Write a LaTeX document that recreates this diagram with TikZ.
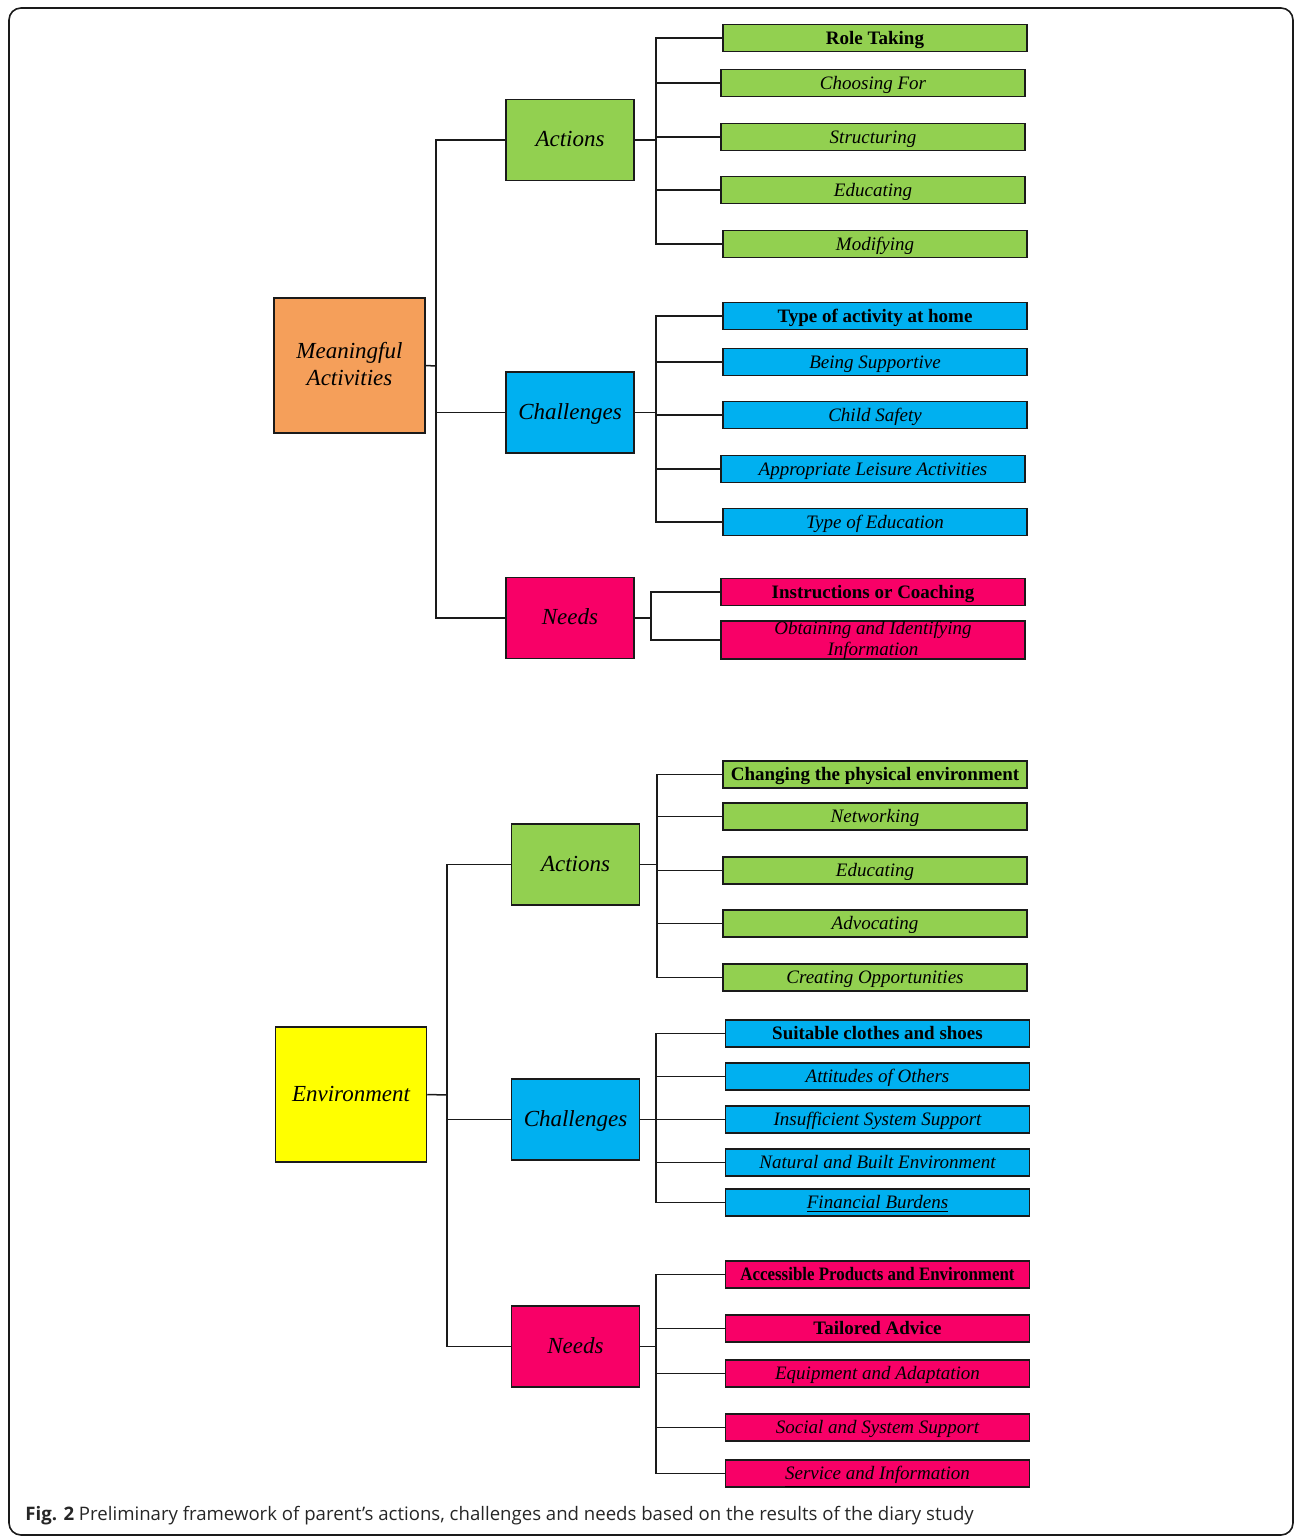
\documentclass[tikz,border=0pt]{standalone}
\usepackage{fontspec}
\setmainfont{Liberation Serif}
\newfontfamily\capfont{Open Sans}
\definecolor{cgreen}{HTML}{92D050}
\definecolor{cblue}{HTML}{00B0F0}
\definecolor{cpink}{HTML}{F80067}
\definecolor{corange}{HTML}{F59F5A}
\definecolor{cyellow}{HTML}{FFFF00}
\definecolor{cline}{HTML}{1A1A1A}
\newcommand\twolines[4]{\raisebox{0pt}[#1][#2]{\begin{tabular}[t]{@{}c@{}}#3\\#4\end{tabular}}}
\begin{document}
\begin{tikzpicture}[x=0.5pt,y=-0.5pt,
  box/.style={draw=cline,line width=0.75pt,inner sep=0pt,align=center},
  leaf/.style={box,minimum width=152pt,minimum height=13.5pt,text height=7.5pt,text depth=1.5pt,font=\fontsize{9.5}{10.5}\selectfont\itshape},
  bleaf/.style={leaf,font=\fontsize{9.5}{10.5}\selectfont\bfseries},
  mid/.style={box,minimum width=64pt,minimum height=40.5pt,text height=9pt,text depth=2.4pt,font=\fontsize{11.5}{13.5}\selectfont\itshape},
  root/.style={box,minimum width=75.5pt,minimum height=67.5pt,text height=9.5pt,text depth=2.5pt,font=\fontsize{11.5}{13.5}\selectfont\itshape},
  multi/.style={text height=,text depth=},
  conn/.style={draw=cline,line width=0.75pt}]
\useasboundingbox (0,0) rectangle (1295,1537);
\draw[draw=cline,line width=0.8pt,rounded corners=6pt] (9,8) rectangle (1293,1535);

% ---------- top: Meaningful Activities ----------
\node[root,multi,fill=corange] (ma) at (349.5,365.5) {\twolines{9pt}{16.5pt}{Meaningful}{Activities}};
\node[mid,fill=cgreen] (a1) at (570,140) {Actions};
\node[mid,fill=cblue] (c1) at (570,412.5) {Challenges};
\node[mid,fill=cpink] (n1) at (570,618) {Needs};

\node[bleaf,fill=cgreen] (a1l1) at (875,38) {Role Taking};
\node[leaf,fill=cgreen] (a1l2) at (873,83) {Choosing For};
\node[leaf,fill=cgreen] (a1l3) at (873,137) {Structuring};
\node[leaf,fill=cgreen] (a1l4) at (873,190) {Educating};
\node[leaf,fill=cgreen] (a1l5) at (875,244) {Modifying};

\node[bleaf,fill=cblue] (c1l1) at (875,316) {Type of activity at home};
\node[leaf,fill=cblue] (c1l2) at (875,362) {Being Supportive};
\node[leaf,fill=cblue] (c1l3) at (875,415) {Child Safety};
\node[leaf,fill=cblue] (c1l4) at (873,469) {Appropriate Leisure Activities};
\node[leaf,fill=cblue] (c1l5) at (875,522) {Type of Education};

\node[bleaf,fill=cpink] (n1l1) at (873,592) {Instructions or Coaching};
\node[leaf,multi,fill=cpink,minimum height=19pt] (n1l2) at (873,640) {\twolines{6.5pt}{12.5pt}{Obtaining and Identifying}{Information}};

\coordinate (tm) at (436,366);
\coordinate (ja1) at (656,140);
\coordinate (jc1) at (656,412.5);
\coordinate (jn1) at (651,618);

\draw[conn] (ma.east) -- (tm);
\draw[conn] (tm) |- (a1.west);
\draw[conn] (tm) |- (c1.west);
\draw[conn] (tm) |- (n1.west);
\draw[conn] (a1.east) -- (ja1);
\draw[conn] (c1.east) -- (jc1);
\draw[conn] (n1.east) -- (jn1);
\foreach \l in {a1l1,a1l2,a1l3,a1l4,a1l5} \draw[conn] (ja1) |- (\l.west);
\foreach \l in {c1l1,c1l2,c1l3,c1l4,c1l5} \draw[conn] (jc1) |- (\l.west);
\foreach \l in {n1l1,n1l2} \draw[conn] (jn1) |- (\l.west);

% ---------- bottom: Environment ----------
\node[root,fill=cyellow] (env) at (351,1094.5) {Environment};
\node[mid,fill=cgreen] (a2) at (575.5,864.5) {Actions};
\node[mid,fill=cblue] (c2) at (575.5,1119.5) {Challenges};
\node[mid,fill=cpink] (n2) at (575.5,1346.5) {Needs};

\node[bleaf,fill=cgreen] (a2l1) at (875,774.5) {Changing the physical environment};
\node[leaf,fill=cgreen] (a2l2) at (875,816.5) {Networking};
\node[leaf,fill=cgreen] (a2l3) at (875,870.5) {Educating};
\node[leaf,fill=cgreen] (a2l4) at (875,923.5) {Advocating};
\node[leaf,fill=cgreen] (a2l5) at (875,977.5) {Creating Opportunities};

\node[bleaf,fill=cblue] (c2l1) at (877.5,1033.5) {Suitable clothes and shoes};
\node[leaf,fill=cblue] (c2l2) at (877.5,1076.5) {Attitudes of Others};
\node[leaf,fill=cblue] (c2l3) at (877.5,1119.5) {Insufficient System Support};
\node[leaf,fill=cblue] (c2l4) at (877.5,1162.5) {Natural and Built Environment};
\node[leaf,fill=cblue] (c2l5) at (877.5,1202.5) {\underline{Financial Burdens}};

\node[bleaf,fill=cpink] (n2l1) at (877.5,1274.5) {\scalebox{0.89}[1]{Accessible Products and Environment}};
\node[bleaf,fill=cpink] (n2l2) at (877.5,1328.5) {Tailored Advice};
\node[leaf,fill=cpink] (n2l3) at (877.5,1373.5) {Equipment and Adaptation};
\node[leaf,fill=cpink] (n2l4) at (877.5,1427.5) {Social and System Support};
\node[leaf,fill=cpink] (n2l5) at (877.5,1473.5) {\underline{Service and Information}};

\coordinate (te) at (447,1095);
\coordinate (ja2) at (657,864.5);
\coordinate (jc2) at (656,1119.5);
\coordinate (jn2) at (656,1346.5);

\draw[conn] (env.east) -- (te);
\draw[conn] (te) |- (a2.west);
\draw[conn] (te) |- (c2.west);
\draw[conn] (te) |- (n2.west);
\draw[conn] (a2.east) -- (ja2);
\draw[conn] (c2.east) -- (jc2);
\draw[conn] (n2.east) -- (jn2);
\foreach \l in {a2l1,a2l2,a2l3,a2l4,a2l5} \draw[conn] (ja2) |- (\l.west);
\foreach \l in {c2l1,c2l2,c2l3,c2l4,c2l5} \draw[conn] (jc2) |- (\l.west);
\foreach \l in {n2l1,n2l2,n2l3,n2l4,n2l5} \draw[conn] (jn2) |- (\l.west);

% ---------- caption ----------
\node[anchor=base west,inner sep=0pt,font=\capfont\fontsize{9.3}{11}\selectfont,text=black!85] (cap) at (25,1520)
  {\textbf{Fig. 2} Preliminary framework of parent’s actions, challenges and needs based on the results of the diary study};
\end{tikzpicture}
\end{document}
